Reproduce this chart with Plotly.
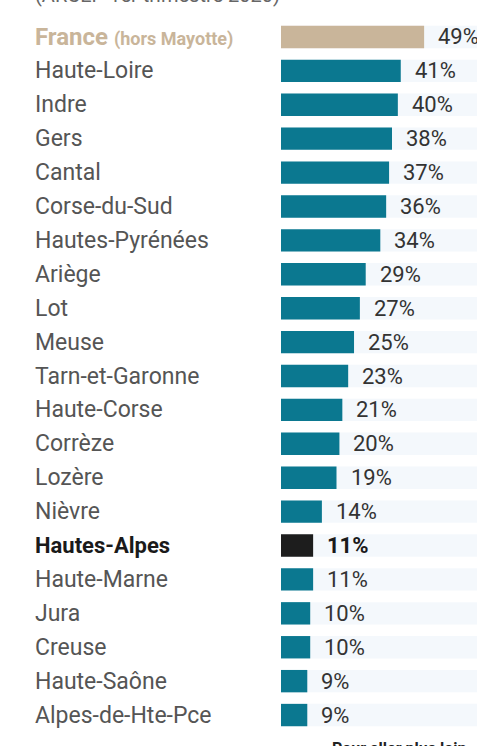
import plotly.graph_objects as go

categories = ["France", "Haute-Loire", "Indre", "Gers", "Cantal", "Corse-du-Sud",
              "Hautes-Pyrénées", "Ariège", "Lot", "Meuse", "Tarn-et-Garonne",
              "Haute-Corse", "Corrèze", "Lozère", "Nièvre", "Hautes-Alpes",
              "Haute-Marne", "Jura", "Creuse", "Haute-Saône", "Alpes-de-Hte-Pce"]
values = [49, 41, 40, 38, 37, 36, 34, 29, 27, 25, 23, 21, 20, 19, 14, 11, 11, 10, 10, 9, 9]
value_labels = [f"{v}%" for v in values]

TEAL = "#0b7890"
TAN = "#c9b59a"
DARK = "#1d1d1d"
TRACK = "#f4f8fc"
XMAX = 67.1

colors = []
for c in categories:
    if c == "France":
        colors.append(TAN)
    elif c == "Hautes-Alpes":
        colors.append(DARK)
    else:
        colors.append(TEAL)

fig = go.Figure()
fig.add_trace(go.Bar(y=categories, x=[XMAX] * len(categories), orientation="h",
                     marker=dict(color=TRACK, line=dict(width=0)), width=0.66,
                     hoverinfo="skip", showlegend=False))
fig.add_trace(go.Bar(y=categories, x=values, orientation="h",
                     marker=dict(color=colors, line=dict(width=0)), width=0.66,
                     showlegend=False))

annotations = []
for c, v, lab in zip(categories, values, value_labels):
    if c == "France":
        text = ("<b>France</b> <b><span style='font-size:18px'>(hors Mayotte)</span></b>")
        annotations.append(dict(x=0, xref="paper", y=c, yref="y", xanchor="left",
                                xshift=-248, text=text, showarrow=False,
                                font=dict(family="Roboto", size=24, color=TAN)))
    elif c == "Hautes-Alpes":
        annotations.append(dict(x=0, xref="paper", y=c, yref="y", xanchor="left",
                                xshift=-248, text=f"<b>{c}</b>", showarrow=False,
                                font=dict(family="Roboto", size=22, color="#1a1a1a")))
    else:
        annotations.append(dict(x=0, xref="paper", y=c, yref="y", xanchor="left",
                                xshift=-248, text=c, showarrow=False,
                                font=dict(family="Roboto", size=23, color="#555555")))
    txt = f"<b>{lab}</b>" if c == "Hautes-Alpes" else lab
    annotations.append(dict(x=v, y=c, xref="x", yref="y", xanchor="left", xshift=12,
                            text=txt, showarrow=False,
                            font=dict(family="Roboto", size=22,
                                      color="#1a1a1a" if c == "Hautes-Alpes" else "#333333")))

annotations.append(dict(x=0, xref="paper", y=1, yref="paper", xanchor="left",
                        xshift=-248, yanchor="middle", yshift=25,
                        text="(ARCEP 1er trimestre 2020)", showarrow=False,
                        font=dict(family="Roboto", size=20, color="#666666")))
annotations.append(dict(x=0.25, xref="paper", y=0, yref="paper", xanchor="left",
                        yanchor="middle", yshift=-16,
                        text="<b>Pour aller plus loin</b>", showarrow=False,
                        font=dict(family="Roboto", size=16, color="#222222")))

fig.update_layout(
    width=477, height=746,
    margin=dict(l=281, r=0, t=20, b=14),
    paper_bgcolor="white", plot_bgcolor="white",
    barmode="overlay",
    xaxis=dict(range=[0, XMAX], visible=False, fixedrange=True),
    yaxis=dict(autorange="reversed", showticklabels=False, showgrid=False,
               zeroline=False, showline=False, ticks="", fixedrange=True),
    annotations=annotations,
)

fig.write_html("out.html",
               config={"displayModeBar": False},
               post_script="document.body.style.margin='0';document.body.style.overflow='hidden';")
